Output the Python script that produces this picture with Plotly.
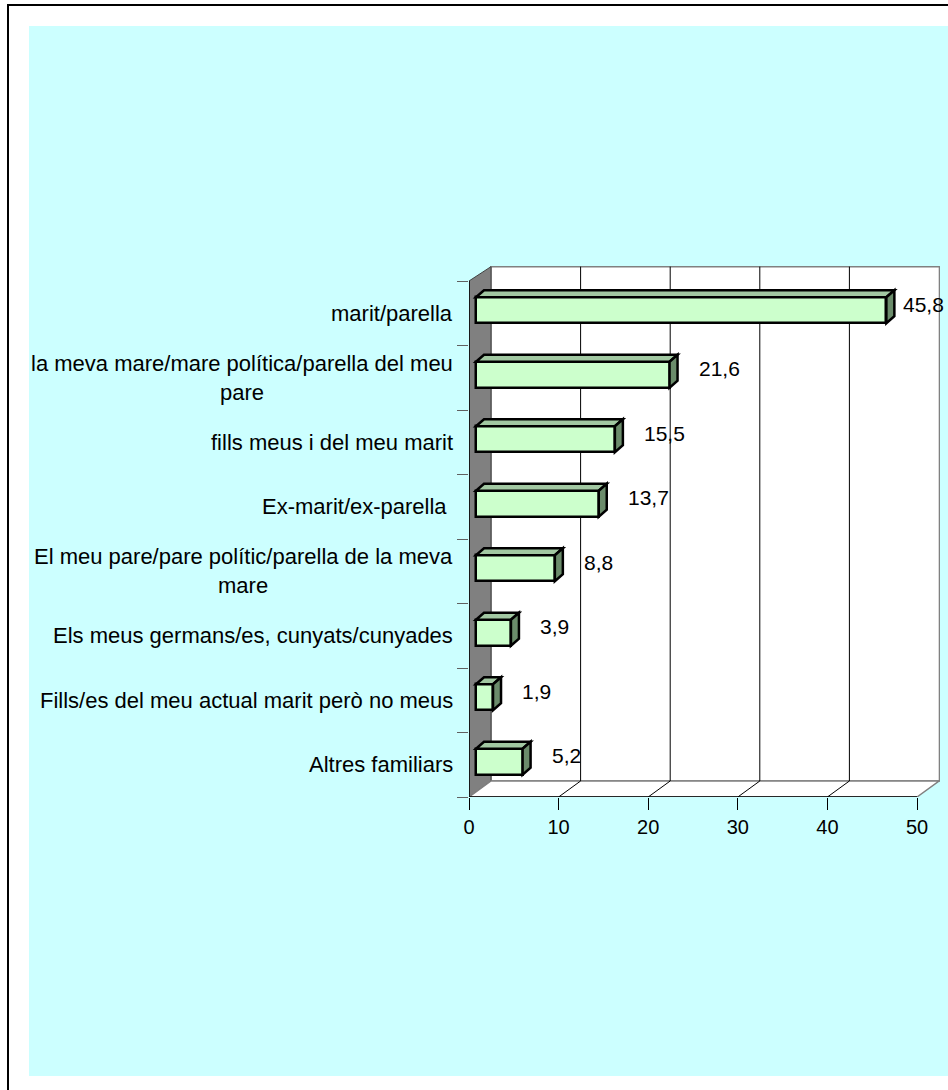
import plotly.graph_objects as go

categories = [
    "marit/parella",
    "la meva mare/mare política/parella del meu<br>pare",
    "fills meus i del meu marit",
    "Ex-marit/ex-parella ",
    "El meu pare/pare polític/parella de la meva<br>mare",
    "Els meus germans/es, cunyats/cunyades",
    "Fills/es del meu actual marit però no meus",
    "Altres familiars",
]
values = [45.8, 21.6, 15.5, 13.7, 8.8, 3.9, 1.9, 5.2]
value_labels = ["45,8", "21,6", "15,5", "13,7", "8,8", "3,9", "1,9", "5,2"]
x_ticks = [0, 10, 20, 30, 40, 50]

FONT = "Liberation Sans, Arial, sans-serif"

# plot area in pixels and the fake 3D depth
L, R, T, B = 469, 940, 266, 797
PPU = 8.96           # px per unit on the front plane
ROW = 64.5           # px per category
DX, DY = 22, 16      # wall depth in px
BAR_DX, BAR_DY = 8, 7
BAR_SHIFT_X, BAR_SHIFT_Y = 7, 3
BAR_H = 26

n = len(categories)
x_max = (R - L) / PPU
y_top = n - (B - T) / ROW
dxu, dyu = DX / PPU, DY / ROW
x_back0, y_back_floor = dxu, n - dyu


def px(x):
    return (x - L) / (R - L)


def py(y):
    return (B - y) / (B - T)


def poly(pts):
    return "M " + " L ".join(f"{a},{b}" for a, b in pts) + " Z"


shapes = [
    # page frame and cyan chart area
    dict(type="rect", xref="paper", yref="paper", x0=px(8), x1=px(980), y0=py(5), y1=py(1110),
         line=dict(color="black", width=2), fillcolor="white", layer="below"),
    dict(type="rect", xref="paper", yref="paper", x0=px(29), x1=px(980), y0=py(26), y1=py(1076),
         line=dict(width=0), fillcolor="#CCFFFF", layer="below"),
    # back wall
    dict(type="rect", xref="x", yref="y", x0=x_back0, x1=x_max - 0.06, y0=y_top + 0.01, y1=y_back_floor,
         line=dict(color="#808080", width=1.5), fillcolor="white", layer="below"),
    # side wall
    dict(type="path", xref="x", yref="y",
         path=poly([(0, 0), (x_back0, y_top + 0.01), (x_back0, y_back_floor), (0, n)]),
         line=dict(color="#404040", width=1), fillcolor="#808080", layer="below"),
    # floor
    dict(type="path", xref="x", yref="y",
         path=poly([(0, n), (x_ticks[-1], n), (x_ticks[-1] + dxu, y_back_floor), (x_back0, y_back_floor)]),
         line=dict(color="#808080", width=1.5), fillcolor="white", layer="below"),
]
for t in x_ticks[1:-1]:
    shapes.append(dict(type="line", xref="x", yref="y", x0=t + dxu, x1=t + dxu,
                       y0=y_back_floor, y1=y_top + 0.01, line=dict(color="black", width=1), layer="below"))
    shapes.append(dict(type="line", xref="x", yref="y", x0=t, x1=t + dxu,
                       y0=n, y1=y_back_floor, line=dict(color="black", width=1), layer="below"))
# front axis lines
shapes.append(dict(type="line", xref="x", yref="y", x0=0, x1=x_ticks[-1], y0=n, y1=n,
                   line=dict(color="black", width=1.5)))
shapes.append(dict(type="line", xref="x", yref="y", x0=0, x1=0, y0=0, y1=n,
                   line=dict(color="black", width=1.5)))

base = BAR_SHIFT_X / PPU
bar_h = BAR_H / ROW
bdx, bdy = BAR_DX / PPU, BAR_DY / ROW
ycs = [i + 0.5 - BAR_SHIFT_Y / ROW for i in range(n)]

fig = go.Figure()
fig.add_trace(go.Bar(
    x=values, y=ycs, base=base, orientation="h", width=bar_h,
    marker=dict(color="#CCFFCC", line=dict(color="black", width=2.5)),
    hoverinfo="skip", showlegend=False,
))

for v, yc in zip(values, ycs):
    x1 = base + v
    y0 = yc - bar_h / 2
    y1 = yc + bar_h / 2
    shapes.append(dict(type="path", xref="x", yref="y",
                       path=poly([(base, y0), (base + bdx, y0 - bdy), (x1 + bdx, y0 - bdy), (x1, y0)]),
                       line=dict(color="black", width=2.5), fillcolor="#A2C8A2"))
    shapes.append(dict(type="path", xref="x", yref="y",
                       path=poly([(x1, y0), (x1 + bdx, y0 - bdy), (x1 + bdx, y1 - bdy), (x1, y1)]),
                       line=dict(color="black", width=2.5), fillcolor="#6B8C6B"))

annotations = []
for i, (cat, v, lab) in enumerate(zip(categories, values, value_labels)):
    annotations.append(dict(x=0, y=i + 0.5, xref="x", yref="y", text=cat, showarrow=False,
                            xanchor="right", align="center", xshift=-14,
                            font=dict(family=FONT, size=22, color="black")))
    end_px = L + BAR_SHIFT_X + v * PPU
    shift = min(27, R - 39 - end_px)
    annotations.append(dict(x=base + v, y=i + 0.5, xref="x", yref="y", text=lab, showarrow=False,
                            xanchor="left", xshift=shift, yshift=9,
                            font=dict(family=FONT, size=21, color="black")))

fig.update_layout(
    width=948, height=1090,
    margin=dict(l=L, r=948 - R, t=T, b=1090 - B),
    paper_bgcolor="white",
    plot_bgcolor="rgba(0,0,0,0)",
    shapes=shapes,
    annotations=annotations,
    bargap=0,
    xaxis=dict(range=[0, x_max], tickvals=x_ticks, ticks="outside", ticklen=12, tickcolor="black",
               showgrid=False, zeroline=False, showline=False, automargin=False,
               tickfont=dict(family=FONT, size=20, color="black")),
    yaxis=dict(range=[n, y_top], tickvals=list(range(n + 1)), ticks="outside", ticklen=11,
               tickcolor="#606060", showticklabels=False, showgrid=False, zeroline=False,
               showline=False, automargin=False),
)

fig.write_html("out.html", config={"displayModeBar": False},
               post_script="document.body.style.margin='0';")
